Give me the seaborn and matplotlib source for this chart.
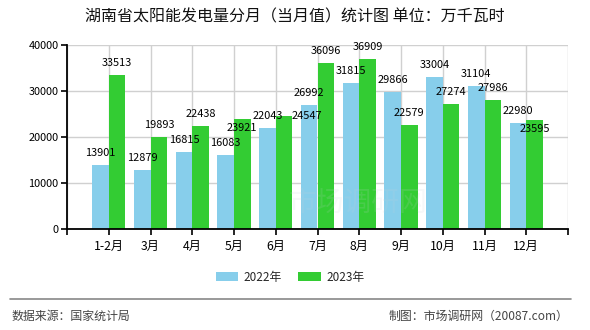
import matplotlib
matplotlib.use("Agg")
import matplotlib.pyplot as plt
from matplotlib.patches import Patch
import seaborn as sns
import pandas as pd

# ---- data ----
months = ["1-2月", "3月", "4月", "5月", "6月", "7月", "8月", "9月", "10月", "11月", "12月"]
series_names = ["2022年", "2023年"]
values_2022 = [13901, 12879, 16815, 16083, 22043, 26992, 31815, 29866, 33004, 31104, 22980]
values_2023 = [33513, 19893, 22438, 23921, 24547, 36096, 36909, 22579, 27274, 27986, 23595]
y_ticks = [0, 10000, 20000, 30000, 40000]

title = "湖南省太阳能发电量分月（当月值）统计图 单位：万千瓦时"
source_text = "数据来源：国家统计局"
credit_text = "制图：市场调研网（20087.com）"
watermark = "市场调研网"

colors = ["#87CEEB", "#33CC33"]

df = pd.DataFrame({
    "month": months * 2,
    "value": values_2022 + values_2023,
    "year": [series_names[0]] * len(months) + [series_names[1]] * len(months),
})

sns.set_theme(style="white")
plt.rcParams["font.family"] = ["Noto Sans CJK SC", "DejaVu Sans"]

fig = plt.figure(figsize=(5.9, 3.3), dpi=100)
ax = fig.add_axes([67 / 590, 1 - 229 / 330, (568 - 67) / 590, (229 - 45) / 330])

sns.barplot(data=df, x="month", y="value", hue="year", order=months,
            hue_order=series_names, palette=colors, saturation=1,
            width=0.8, linewidth=0, legend=False, ax=ax, zorder=2)

# axes range and grid
n = len(months)
ax.set_xlim(-1, n)
ax.set_ylim(0, 40000)
ax.set_xticks(range(-1, n + 1))
ax.set_xticklabels([""] + months + [""], fontsize=8.8, color="black")
ax.set_yticks(y_ticks)
ax.set_yticklabels([str(v) for v in y_ticks], fontsize=7.9, color="black")
ax.set_xlabel("")
ax.set_ylabel("")
ax.set_axisbelow(True)
ax.grid(True, color="#d0d0d0", linewidth=1.0, zorder=0)
for side in ["top", "right"]:
    ax.spines[side].set_visible(False)
for side in ["left", "bottom"]:
    ax.spines[side].set_color("black")
    ax.spines[side].set_linewidth(1.3)
    ax.spines[side].set_zorder(3)
ax.tick_params(axis="both", which="both", direction="out", length=4,
               width=1.2, color="black", pad=2, left=True, bottom=True)
ax.tick_params(axis="x", pad=4)

# faint watermark
ax.text(0.58, 0.14, watermark, transform=ax.transAxes, fontsize=20,
        color="#c8d0d8", alpha=0.15, ha="center", va="center", zorder=2.5)

# value labels (offsets in pixels: dx right, dy down; default above bar)
label_offsets = {(1, 3): (0, 8.7), (1, 4): (23, 0), (1, 10): (0, 8.8)}
for si, cont in enumerate(ax.containers):
    for bi, bar in enumerate(cont):
        h = bar.get_height()
        dx, dy = label_offsets.get((si, bi), (0, -12))
        ax.annotate(f"{int(round(h))}",
                    xy=(bar.get_x() + bar.get_width() / 2, h),
                    xytext=(dx * 0.72, -dy * 0.72), textcoords="offset points",
                    ha="center", va="center", fontsize=7.9, color="black",
                    zorder=4, annotation_clip=False)

# title
fig.text(295 / 590, 1 - 17 / 330, title, ha="center", va="center",
         fontsize=11.5, color="#111111")

# legend
handles = [Patch(facecolor=c, edgecolor="none") for c in colors]
fig.legend(handles, series_names, loc="center", bbox_to_anchor=(290 / 590, 1 - 277 / 330),
           ncol=2, frameon=False, fontsize=8.5, handlelength=1.9, handleheight=0.75,
           handletextpad=0.45, columnspacing=1.4)

# bottom separator and source notes
fig.add_artist(plt.Line2D([10 / 590, 571 / 590], [1 - 298.5 / 330, 1 - 298.5 / 330],
                          color="#888888", linewidth=1.2, transform=fig.transFigure))
fig.text(12 / 590, 1 - 316 / 330, source_text, ha="left", va="center",
         fontsize=8.6, color="#444444")
fig.text(568 / 590, 1 - 316 / 330, credit_text, ha="right", va="center",
         fontsize=8.6, color="#444444")

fig.savefig("out.png", dpi=100)
